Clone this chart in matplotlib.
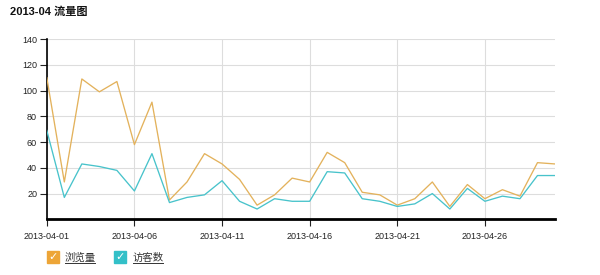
import matplotlib
matplotlib.use("Agg")
import matplotlib.pyplot as plt
from matplotlib.patches import Rectangle
from matplotlib.lines import Line2D

plt.rcParams['font.family'] = ['Liberation Sans', 'Noto Sans CJK SC', 'DejaVu Sans']

days = list(range(30))
pv = [110, 29, 109, 99, 107, 58, 91, 15, 29, 51, 43, 31, 11, 19, 32,
      29, 52, 44, 21, 19, 11, 16, 29, 10, 27, 16, 23, 18, 44, 43]
uv = [69, 17, 43, 41, 38, 22, 51, 13, 17, 19, 30, 14, 8, 16, 14,
      14, 37, 36, 16, 14, 10, 12, 20, 8, 24, 14, 18, 16, 34, 34]
xtick_pos = [0, 5, 10, 15, 20, 25]
xtick_labels = ['2013-04-01', '2013-04-06', '2013-04-11',
                '2013-04-16', '2013-04-21', '2013-04-26']
yticks = [20, 40, 60, 80, 100, 120, 140]
names = ['浏览量', '访客数']

c_pv = '#e3b25c'
c_uv = '#48c3cb'
box_pv = '#eda537'
box_uv = '#33c0c8'

fig = plt.figure(figsize=(6, 2.75), dpi=100)
ax = fig.add_axes([0.078, 0.2025, 0.847, 0.6555])

ax.plot(days, pv, color=c_pv, lw=0.95, zorder=3)
ax.plot(days, uv, color=c_uv, lw=0.95, zorder=3)

ax.set_xlim(0, 29)
ax.set_ylim(0, 140)
ax.set_xticks(xtick_pos)
ax.set_xticklabels(xtick_labels)
ax.set_yticks(yticks)
ax.tick_params(axis='both', labelsize=6.5, colors='#222222', length=5, width=0.8)
ax.tick_params(axis='x', pad=4)
ax.tick_params(axis='y', pad=2)
ax.grid(True, color='#dddddd', lw=0.8)
ax.set_axisbelow(True)

for s in ['top', 'right']:
    ax.spines[s].set_visible(False)
ax.spines['left'].set_linewidth(1.2)
ax.spines['bottom'].set_linewidth(2)

fig.text(10 / 600, 1 - 12 / 275, '2013-04 流量图', fontsize=8, fontweight='bold',
         va='center', ha='left', color='#111111')

# legend with check boxes
legend_items = [(47, 65, box_pv, names[0]), (114, 133, box_uv, names[1])]
for bx, tx, col, name in legend_items:
    fig.patches.append(Rectangle((bx / 600, 1 - 263 / 275), 12 / 600, 12 / 275,
                                 transform=fig.transFigure, color=col))
    fig.text((bx + 6) / 600, 1 - 257 / 275, '✓', fontsize=8, color='white',
             ha='center', va='center', family=['DejaVu Sans'], fontweight='bold')
    t = fig.text(tx / 600, 1 - 257.5 / 275, name, fontsize=7.5, color='#333333',
                 ha='left', va='center')
    fig.lines.append(Line2D([tx / 600, (tx + 30) / 600], [1 - 263 / 275, 1 - 263 / 275],
                            transform=fig.transFigure, color='#333333', lw=0.7))

fig.savefig('out.png', dpi=100)
